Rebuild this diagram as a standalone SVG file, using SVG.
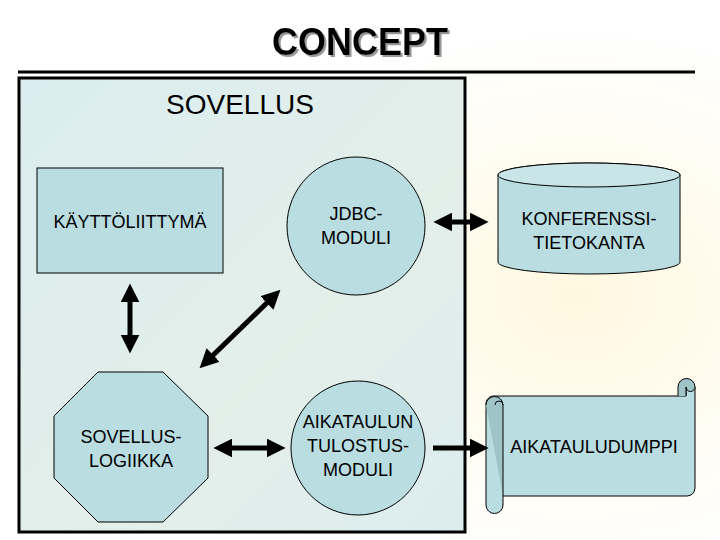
<svg xmlns="http://www.w3.org/2000/svg" width="720" height="540" viewBox="0 0 720 540">
<defs>
<style>
.node{fill:#b9dde1;stroke:#000;stroke-width:1}
.lbl{font-family:"Liberation Sans",Arial,sans-serif;font-size:18px;fill:#000;text-anchor:middle}
.conn{stroke:#000;stroke-width:5;fill:none}
</style>
<marker id="ah" viewBox="0 0 10 10" refX="6" refY="5" markerWidth="3.8" markerHeight="3.8" orient="auto-start-reverse" markerUnits="strokeWidth">
<path d="M0,0 L10,5 L0,10 Z" fill="#000"/>
</marker>
<filter id="shadow" x="-10%" y="-20%" width="130%" height="150%">
<feDropShadow dx="2" dy="2" stdDeviation="0.5" flood-color="#999"/>
</filter>
<radialGradient id="glow" cx="0.8" cy="0.55" r="0.5">
<stop offset="0" stop-color="#fff8e0"/>
<stop offset="1" stop-color="#ffffff"/>
</radialGradient>
<linearGradient id="panel" x1="0" y1="0" x2="1" y2="1">
<stop offset="0" stop-color="#dbedf0"/>
<stop offset="0.6" stop-color="#e3efe9"/>
<stop offset="1" stop-color="#dcecef"/>
</linearGradient>
</defs>
<rect width="720" height="540" fill="url(#glow)"/>
<g id="title">
<text x="360" y="55" font-family="Liberation Sans,Arial,sans-serif" font-size="38" font-weight="bold" text-anchor="middle" fill="#000" textLength="176" lengthAdjust="spacingAndGlyphs" filter="url(#shadow)">CONCEPT</text>
<line x1="18" y1="72" x2="695" y2="72" stroke="#000" stroke-width="3"/>
</g>
<g id="sovellus">
<rect x="19" y="78" width="446" height="454" fill="url(#panel)" stroke="#000" stroke-width="3"/>
<text x="240" y="114" font-family="Liberation Sans,Arial,sans-serif" font-size="28" text-anchor="middle" fill="#000">SOVELLUS</text>
</g>
<g id="kayttoliittyma">
<rect class="node" x="37" y="168" width="186" height="105"/>
<text class="lbl" x="130" y="228">KÄYTTÖLIITTYMÄ</text>
</g>
<g id="jdbc">
<circle class="node" cx="356" cy="226" r="69"/>
<text class="lbl" x="356" y="220">JDBC-</text>
<text class="lbl" x="356" y="244">MODULI</text>
</g>
<g id="tietokanta">
<path class="node" d="M498,175 L498,262 A91,12 0 0 0 680,262 L680,175 A91,12 0 0 0 498,175 Z"/>
<ellipse cx="589" cy="175" rx="91" ry="12" fill="#c9e5e8" stroke="#000" stroke-width="1"/>
<text class="lbl" x="589" y="225">KONFERENSSI-</text>
<text class="lbl" x="589" y="249">TIETOKANTA</text>
</g>
<g id="sovelluslogiikka">
<polygon class="node" points="98,372 163,372 208,416 208,478 163,522 98,522 54,478 54,416"/>
<text class="lbl" x="131" y="443">SOVELLUS-</text>
<text class="lbl" x="131" y="467">LOGIIKKA</text>
</g>
<g id="tulostus">
<circle class="node" cx="358" cy="448" r="67"/>
<text class="lbl" x="358" y="428">AIKATAULUN</text>
<text class="lbl" x="358" y="452">TULOSTUS-</text>
<text class="lbl" x="358" y="476">MODULI</text>
</g>
<g id="aikatauludumppi">
<path class="node" d="M495,396 L686,396 L686,387 A8,8 0 0 1 695,387 L695,488 A8,8 0 0 1 687,496 L503,496 L503,505 A8,8 0 0 1 486,505 L486,405 A8,8 0 0 1 495,396 Z"/>
<path d="M486,405 A8,8 0 0 1 503,405 L503,496" fill="#9fc4c8" stroke="#000" stroke-width="1"/>
<path d="M495,405 A4,4 0 0 1 503,405" fill="none" stroke="#000" stroke-width="1"/>
<path d="M678,396 L678,387 A8.5,8.5 0 0 1 695,387 A4,4 0 0 1 686,387 L686,396" fill="#9fc4c8" stroke="#000" stroke-width="1"/>
<text class="lbl" x="594" y="453">AIKATAULUDUMPPI</text>
</g>
<g id="connectors">
<line class="conn" x1="130" y1="291" x2="130" y2="346" marker-start="url(#ah)" marker-end="url(#ah)"/>
<line class="conn" x1="275" y1="295" x2="205" y2="363" marker-start="url(#ah)" marker-end="url(#ah)"/>
<line class="conn" x1="441" y1="222" x2="481" y2="222" marker-start="url(#ah)" marker-end="url(#ah)"/>
<line class="conn" x1="221" y1="448" x2="278" y2="448" marker-start="url(#ah)" marker-end="url(#ah)"/>
<line class="conn" x1="433" y1="448" x2="481" y2="448" marker-end="url(#ah)"/>
</g>
</svg>
